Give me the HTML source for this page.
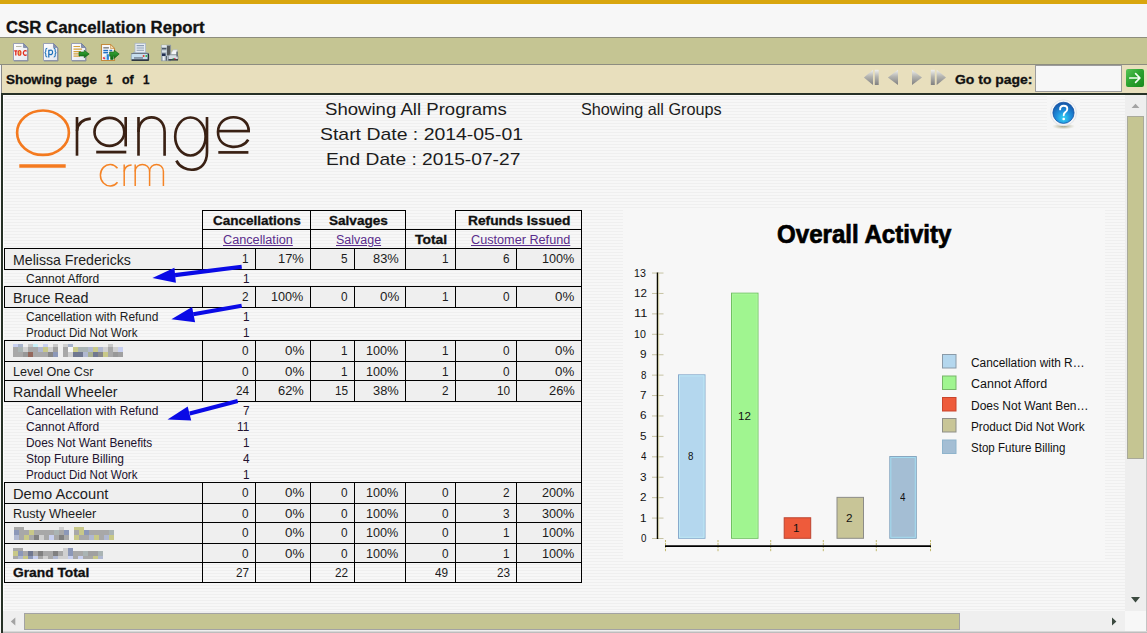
<!DOCTYPE html>
<html><head><meta charset="utf-8"><title>CSR Cancellation Report</title>
<style>
html,body{margin:0;padding:0;}
body{width:1147px;height:633px;overflow:hidden;position:relative;background:#f7f7f7;font-family:"Liberation Sans",sans-serif;}
.a{position:absolute;}
.t{position:absolute;white-space:pre;line-height:1;transform-origin:0 0;font-family:"Liberation Sans",sans-serif;}
.h{position:absolute;height:1px;background:#000;}
.v{position:absolute;width:1px;background:#000;}
.rb{position:absolute;left:4px;width:577px;background:#efefef;}
svg{position:absolute;overflow:visible;}
</style></head><body>
<!-- top gold bar -->
<div class="a" style="left:0;top:0;width:1147px;height:4px;background:#d9a60e;"></div>
<!-- toolbar -->
<div class="a" style="left:0;top:37px;width:1147px;height:28px;background:#c5c593;border-top:1px solid #8d8d7d;border-bottom:1px solid #8d8d80;box-sizing:border-box;"></div>
<!-- nav bar -->
<div class="a" style="left:1px;top:65px;width:1146px;height:28px;background:#e8dfbd;border-left:1px solid #8a8a8a;box-sizing:border-box;"></div>
<!-- report frame -->
<div class="a" style="left:1px;top:93px;width:1146px;height:540px;background:#263126;"></div>
<div class="a" style="left:3px;top:95px;width:1144px;height:538px;background:#fdfdfd;"></div>
<div class="a" id="stripes" style="left:4px;top:96px;width:1121px;height:515px;background:repeating-linear-gradient(to bottom,#efefef 0px,#efefef 1px,#f7f7f7 1px,#f7f7f7 3px);background-position:0 0;"></div>
<!-- chart background -->
<div class="a" style="left:623px;top:208px;width:482px;height:352px;background:#f7f7f7;"></div>
<!-- scrollbars -->
<div class="a" style="left:1125px;top:95px;width:21px;height:516px;background:#eeeeee;"></div>
<div class="a" style="left:1146px;top:95px;width:1px;height:538px;background:#c4c4c4;"></div>
<div class="a" style="left:1127px;top:116px;width:17px;height:343px;background:#c5c592;border:1px solid #a9a99a;box-sizing:border-box;"></div>
<div class="a" style="left:3px;top:611px;width:1122px;height:21px;background:#efefef;"></div>
<div class="a" style="left:1125px;top:611px;width:21px;height:21px;background:#f7f7f7;"></div>
<div class="a" style="left:24px;top:613px;width:936px;height:17px;background:#c5c592;border:1px solid #a3a3a3;box-sizing:border-box;"></div>
<div class="a" style="left:1px;top:631px;width:1146px;height:1px;background:#d8d8d8;"></div><div class="a" style="left:1px;top:632px;width:1146px;height:1px;background:#bdbdbd;"></div>
<div class="a" style="left:1px;top:93px;width:2px;height:540px;background:#263126;"></div>
<svg width="1147" height="633" style="left:0;top:0" viewBox="0 0 1147 633">
 <polygon points="1131.6,108 1139.4,108 1135.5,103.7" fill="#a3a3a3"/>
 <polygon points="1131,597 1140,597 1135.5,602.5" fill="#3c4a40"/>
 <polygon points="15.3,617.5 15.3,625.5 10.8,621.5" fill="#a3a3a3"/>
 <polygon points="1112,617.5 1112,625.5 1116.4,621.5" fill="#3c4a40"/>
</svg>
<svg width="1147" height="633" style="left:0;top:0" viewBox="0 0 1147 633">
<defs>
 <linearGradient id="gArrow" x1="0" y1="0" x2="0" y2="1"><stop offset="0" stop-color="#3cae3c"/><stop offset="1" stop-color="#0e6a12"/></linearGradient>
 <linearGradient id="gPage" x1="0" y1="0" x2="1" y2="1"><stop offset="0" stop-color="#ffffff"/><stop offset="1" stop-color="#e4e6ee"/></linearGradient>
</defs>
<!-- icon1 TOC -->
<g>
 <path d="M13.5,43.5 H23.5 L27.5,47.5 V60.5 H13.5 Z" fill="url(#gPage)" stroke="#9aa0b4" stroke-width="1"/>
 <path d="M23.5,43.5 V47.5 H27.5 Z" fill="#8792b0" stroke="#6a7697" stroke-width="0.6"/>
 <path d="M14,61 H28 V48" fill="none" stroke="#7c8294" stroke-width="1" opacity=".7"/>
 <rect x="16" y="46" width="5.5" height="1" fill="#b9b9a8"/>
 <g fill="none" stroke="#e0281c" stroke-width="1.3">
  <path d="M14.2,50.9 H17.4 M15.8,50.9 V55.4"/>
  <ellipse cx="19.5" cy="52.9" rx="1.35" ry="2.2" stroke="#e2401c"/>
  <path d="M26.6,51.4 A1.9,2.3 0 1 0 26.6,54.6"/>
 </g>
 <ellipse cx="19.5" cy="52.9" rx="0.5" ry="1.4" fill="#f2c43a" stroke="none"/>
</g>
<!-- icon2 {p} -->
<g>
 <path d="M43.5,43.5 H53.5 L57.5,47.5 V60.5 H43.5 Z" fill="url(#gPage)" stroke="#9aa0b4" stroke-width="1"/>
 <path d="M53.5,43.5 V47.5 H57.5 Z" fill="#8792b0" stroke="#6a7697" stroke-width="0.6"/>
 <path d="M44,61 H58 V48" fill="none" stroke="#7c8294" stroke-width="1" opacity=".7"/>
 <g fill="none" stroke="#1c70b8" stroke-width="1.05">
  <path d="M47.3,48.3 Q45.8,48.3 45.8,50 V51.3 Q45.8,52.6 44.6,52.6 Q45.8,52.6 45.8,53.9 V55.4 Q45.8,57 47.3,57"/>
  <path d="M53.7,48.3 Q55.2,48.3 55.2,50 V51.3 Q55.2,52.6 56.4,52.6 Q55.2,52.6 55.2,53.9 V55.4 Q55.2,57 53.7,57"/>
  <path d="M48.8,49.8 V57.6 M48.8,50.6 Q52.6,49 52.6,52.3 Q52.6,55.4 48.8,54.2" stroke-width="1.25"/>
 </g>
</g>
<!-- icon3 export data -->
<g>
 <path d="M71.5,43.5 H81.5 L85.5,47.5 V60.5 H71.5 Z" fill="url(#gPage)" stroke="#9aa0b4" stroke-width="1"/>
 <path d="M81.5,43.5 V47.5 H85.5 Z" fill="#8792b0" stroke="#5d6a8c" stroke-width="0.6"/>
 <path d="M72,61 H86 V48" fill="none" stroke="#7c8294" stroke-width="1" opacity=".7"/>
 <g stroke="#d4a23c" stroke-width="1.2">
  <path d="M73.5,46.5 H80 M73.5,49.2 H82 M73.5,51.6 H81 M73.5,53.8 H79 M73.5,56.2 H80"/>
 </g>
 <path d="M79,52 H84.2 V50.3 L89.2,54 L84.2,57.8 V56 H79 Z" fill="url(#gArrow)" stroke="#0d5e10" stroke-width="0.6"/>
</g>
<!-- icon4 export report -->
<g>
 <path d="M101.5,44.5 H110.5 L114.5,48.5 V60.5 H101.5 Z" fill="#f8f8fa" stroke="#c48a3c" stroke-width="1.1"/>
 <path d="M110.5,44.5 V48.5 H114.5 Z" fill="#f0d9a8" stroke="#c48a3c" stroke-width="0.6"/>
 <rect x="103.3" y="47" width="5.6" height="1.6" fill="#8a8a8a"/>
 <rect x="103.3" y="49.8" width="4.8" height="1.5" fill="#1f6fc4"/>
 <rect x="109.4" y="49.8" width="2.8" height="1.5" fill="#1f6fc4"/>
 <rect x="103.3" y="52" width="4.8" height="1.4" fill="#1f6fc4"/>
 <rect x="106.6" y="54.2" width="2.3" height="5.6" fill="#2a86d8"/>
 <rect x="104.3" y="55.6" width="1.8" height="4.2" fill="#bfe1f4"/>
 <rect x="103" y="57" width="1.8" height="2.2" fill="#e8324a" transform="rotate(-40 104 58)"/>
 <path d="M109.6,52 H114.2 V50.2 L119.2,54 L114.2,58.4 V56.2 H113.2 V59.4 H110.6 V56.2 H109.6 Z" fill="url(#gArrow)" stroke="#0d5e10" stroke-width="0.6"/>
</g>
<!-- icon5 printer -->
<g>
 <rect x="135" y="43.3" width="10.6" height="10" fill="#e6ecf2" stroke="#aab6c6" stroke-width="0.8"/>
 <path d="M136.6,45.6 H144 M136.6,48 H144 M136.6,50.3 H144" stroke="#8c9db4" stroke-width="1.1"/>
 <path d="M133,52.8 H147.4 L149,55 V60 H131.3 V55 Z" fill="#c6deee" stroke="#8aa2b8" stroke-width="0.8"/>
 <rect x="131.3" y="53" width="17.7" height="1" fill="#6e7884"/>
 <rect x="131.6" y="59.3" width="17.2" height="1.7" fill="#2e3640"/>
 <rect x="134" y="57.3" width="9" height="1.3" fill="#6c7a8a"/>
 <rect x="147.6" y="54" width="1.4" height="6" fill="#2e3640"/>
 <circle cx="143.6" cy="55.9" r="1" fill="#e23a2a"/>
 <circle cx="146.3" cy="55.9" r="1" fill="#2fb24a"/>
</g>
<!-- icon6 server printer -->
<g>
 <rect x="161.3" y="45.2" width="9.4" height="15.6" fill="#b4c0c8" stroke="#8a96a0" stroke-width="0.7"/>
 <rect x="161.6" y="45.2" width="5" height="1.6" fill="#eef2f4"/>
 <rect x="167" y="45.8" width="3.2" height="9.6" fill="#565a5a"/>
 <rect x="162" y="48" width="4.4" height="1.4" fill="#4c5866"/>
 <rect x="162" y="50.6" width="4.4" height="1.2" fill="#dfe8ee"/>
 <rect x="162" y="53.4" width="3.6" height="2.6" fill="#223052"/>
 <rect x="163" y="56.4" width="1.6" height="4" fill="#eef2f6"/>
 <rect x="165.8" y="56" width="1.2" height="4.6" fill="#5a646e"/>
 <path d="M171.4,52.5 L173.2,49.8 H177.4 L176.6,54.6 H171 Z" fill="#f4f6f8" stroke="#a9b2ba" stroke-width="0.6"/>
 <path d="M169.6,54.8 H177 L178,56.2 V59.6 H168.4 V56.4 Z" fill="#d7dee4" stroke="#7f8a94" stroke-width="0.7"/>
 <rect x="168.4" y="59" width="9.6" height="1.6" fill="#3c444c"/>
 <rect x="176.4" y="51.6" width="1.4" height="5" fill="#5e6a74"/>
 <rect x="172.6" y="58.2" width="1.3" height="1.2" fill="#1e9a3a"/>
 <rect x="174" y="58.2" width="1.5" height="1.2" fill="#c81e3c"/>
</g>
</svg>

<div class="a" style="left:1047px;top:96px;width:33px;height:34px;background:#f6f6f6;"></div>
<div class="a" style="left:1035px;top:65px;width:87px;height:27px;background:#f7f7f7;border:1px solid #9c9c9c;box-sizing:border-box;"></div>
<svg width="1147" height="633" style="left:0;top:0" viewBox="0 0 1147 633">
<defs>
 <linearGradient id="gNav" x1="0" y1="0" x2="0" y2="1"><stop offset="0" stop-color="#f0f0ee"/><stop offset=".45" stop-color="#b4b4b0"/><stop offset="1" stop-color="#808080"/></linearGradient>
 <linearGradient id="gGo" x1="0" y1="0" x2="1" y2="1"><stop offset="0" stop-color="#56c456"/><stop offset=".5" stop-color="#2aa12e"/><stop offset="1" stop-color="#178a1c"/></linearGradient>
 <radialGradient id="gHelp" cx=".5" cy=".75" r=".75"><stop offset="0" stop-color="#34d4f4"/><stop offset=".45" stop-color="#1e8fdc"/><stop offset="1" stop-color="#1450a4"/></radialGradient>
 <radialGradient id="gSh" cx=".5" cy=".5" r=".5"><stop offset="0" stop-color="#8a8a60" stop-opacity=".8"/><stop offset="1" stop-color="#b0b090" stop-opacity="0"/></radialGradient>
</defs>
<g fill="url(#gNav)">
 <polygon points="863.9,77.4 873,69.8 873,85"/>
 <rect x="874.8" y="69.8" width="3.9" height="15.2"/>
 <polygon points="887.9,77.4 898,69.8 898,85"/>
 <polygon points="922,77.4 912,69.8 912,85"/>
 <rect x="930.8" y="69.8" width="4" height="15.2"/>
 <polygon points="946,77.4 936.7,69.8 936.7,85"/>
</g>
<!-- go button -->
<rect x="1126" y="69" width="18" height="18" rx="2" fill="url(#gGo)"/>
<path d="M1129.8,78 H1139.6 M1135.6,73.6 L1139.9,78 L1135.6,82.4" fill="none" stroke="#f4fff4" stroke-width="1.7" stroke-linecap="round" stroke-linejoin="round"/>
<!-- help icon -->
<ellipse cx="1063.5" cy="126.3" rx="11.5" ry="3" fill="url(#gSh)"/>
<circle cx="1063.5" cy="112.8" r="13" fill="#f4f6f8" stroke="#e2e4e8" stroke-width="1"/>
<circle cx="1063.5" cy="112.8" r="10.6" fill="url(#gHelp)" stroke="#1a58a8" stroke-width="0.8"/>
<path d="M1060.1,109.4 Q1060.1,105.8 1063.7,105.8 Q1067.3,105.8 1067.3,109 Q1067.3,111 1065.1,112.4 Q1063.7,113.3 1063.7,115.2" fill="none" stroke="#fff" stroke-width="1.9" stroke-linecap="round"/>
<circle cx="1063.7" cy="119" r="1.3" fill="#fff"/>
</svg>

<svg width="1147" height="633" style="left:0;top:0" viewBox="0 0 1147 633" fill="none" stroke-linecap="butt">
<g stroke="#f47a1f" stroke-width="2.65">
 <ellipse cx="43" cy="132.7" rx="25.9" ry="22.2"/>
 <path d="M19.3,166 H65.7" stroke-width="3.3"/>
</g>
<g stroke="#3a2114" stroke-width="2.65">
 <!-- r -->
 <path d="M77,117 V155.7"/>
 <path d="M77,131 Q78,119.6 90.8,118.6" stroke-width="2.6"/>
 <!-- a -->
 <ellipse cx="109.4" cy="131.9" rx="14.9" ry="14"/>
 <path d="M125.7,117 V146.4"/>
 <path d="M96.2,152.1 H126.3" stroke-width="2.8"/>
 <!-- n -->
 <path d="M138.5,117 V155.7"/>
 <path d="M138.5,132 C138.5,112.5 164.6,112.5 164.6,132 V155.7"/>
 <!-- g -->
 <ellipse cx="190.4" cy="136.5" rx="15.2" ry="19"/>
 <path d="M207,117 V152 C207,175 182,173 176.4,160.6"/>
 <!-- e -->
 <path d="M218,131.1 H250"/>
 <path d="M248.7,131.1 C248.7,112.5 218,112.5 218,131.8 C218,150.5 243,150 248.2,139.6"/>
 <path d="M218.3,152.4 H248.4" stroke-width="2.7"/>
</g>
<g stroke="#f58426" stroke-width="1.5">
 <path d="M117.5,168.2 A9.7,10.8 0 1 0 117.5,182.2"/>
 <path d="M124.2,164.4 V186"/>
 <path d="M124.2,171.5 Q124.8,165.4 131.6,165"/>
 <path d="M135.2,164.4 V186"/>
 <path d="M135.2,171.5 C135.2,162.2 149.6,162.2 149.6,171.5 V186"/>
 <path d="M149.6,171.5 C149.6,162.2 163.4,162.2 163.4,171.5 V186"/>
</g>
</svg>

<div class="rb" style="top:248px;height:21px"></div>
<div class="rb" style="top:286px;height:21px"></div>
<div class="rb" style="top:340px;height:21px"></div>
<div class="rb" style="top:361px;height:19px"></div>
<div class="rb" style="top:380px;height:21px"></div>
<div class="rb" style="top:482px;height:21px"></div>
<div class="rb" style="top:503px;height:19px"></div>
<div class="rb" style="top:522px;height:21px"></div>
<div class="rb" style="top:543px;height:19px"></div>
<div class="h" style="left:202px;top:210px;width:204px"></div>
<div class="h" style="left:455px;top:210px;width:127px"></div>
<div class="h" style="left:202px;top:229px;width:380px"></div>
<div class="h" style="left:4px;top:248px;width:578px"></div>
<div class="h" style="left:4px;top:269px;width:578px"></div>
<div class="h" style="left:4px;top:286px;width:578px"></div>
<div class="h" style="left:4px;top:307px;width:578px"></div>
<div class="h" style="left:4px;top:340px;width:578px"></div>
<div class="h" style="left:4px;top:361px;width:578px"></div>
<div class="h" style="left:4px;top:380px;width:578px"></div>
<div class="h" style="left:4px;top:401px;width:578px"></div>
<div class="h" style="left:4px;top:482px;width:578px"></div>
<div class="h" style="left:4px;top:503px;width:578px"></div>
<div class="h" style="left:4px;top:522px;width:578px"></div>
<div class="h" style="left:4px;top:543px;width:578px"></div>
<div class="h" style="left:4px;top:562px;width:578px"></div>
<div class="h" style="left:4px;top:582px;width:578px"></div>
<div class="v" style="left:581px;top:210px;height:373px"></div>
<div class="v" style="left:202px;top:210px;height:39px"></div>
<div class="v" style="left:310px;top:210px;height:39px"></div>
<div class="v" style="left:405px;top:210px;height:39px"></div>
<div class="v" style="left:455px;top:210px;height:39px"></div>
<div class="v" style="left:4px;top:248px;height:22px"></div>
<div class="v" style="left:202px;top:248px;height:22px"></div>
<div class="v" style="left:255px;top:248px;height:22px"></div>
<div class="v" style="left:310px;top:248px;height:22px"></div>
<div class="v" style="left:354px;top:248px;height:22px"></div>
<div class="v" style="left:405px;top:248px;height:22px"></div>
<div class="v" style="left:455px;top:248px;height:22px"></div>
<div class="v" style="left:516px;top:248px;height:22px"></div>
<div class="v" style="left:4px;top:286px;height:22px"></div>
<div class="v" style="left:202px;top:286px;height:22px"></div>
<div class="v" style="left:255px;top:286px;height:22px"></div>
<div class="v" style="left:310px;top:286px;height:22px"></div>
<div class="v" style="left:354px;top:286px;height:22px"></div>
<div class="v" style="left:405px;top:286px;height:22px"></div>
<div class="v" style="left:455px;top:286px;height:22px"></div>
<div class="v" style="left:516px;top:286px;height:22px"></div>
<div class="v" style="left:4px;top:340px;height:22px"></div>
<div class="v" style="left:202px;top:340px;height:22px"></div>
<div class="v" style="left:255px;top:340px;height:22px"></div>
<div class="v" style="left:310px;top:340px;height:22px"></div>
<div class="v" style="left:354px;top:340px;height:22px"></div>
<div class="v" style="left:405px;top:340px;height:22px"></div>
<div class="v" style="left:455px;top:340px;height:22px"></div>
<div class="v" style="left:516px;top:340px;height:22px"></div>
<div class="v" style="left:4px;top:361px;height:20px"></div>
<div class="v" style="left:202px;top:361px;height:20px"></div>
<div class="v" style="left:255px;top:361px;height:20px"></div>
<div class="v" style="left:310px;top:361px;height:20px"></div>
<div class="v" style="left:354px;top:361px;height:20px"></div>
<div class="v" style="left:405px;top:361px;height:20px"></div>
<div class="v" style="left:455px;top:361px;height:20px"></div>
<div class="v" style="left:516px;top:361px;height:20px"></div>
<div class="v" style="left:4px;top:380px;height:22px"></div>
<div class="v" style="left:202px;top:380px;height:22px"></div>
<div class="v" style="left:255px;top:380px;height:22px"></div>
<div class="v" style="left:310px;top:380px;height:22px"></div>
<div class="v" style="left:354px;top:380px;height:22px"></div>
<div class="v" style="left:405px;top:380px;height:22px"></div>
<div class="v" style="left:455px;top:380px;height:22px"></div>
<div class="v" style="left:516px;top:380px;height:22px"></div>
<div class="v" style="left:4px;top:482px;height:22px"></div>
<div class="v" style="left:202px;top:482px;height:22px"></div>
<div class="v" style="left:255px;top:482px;height:22px"></div>
<div class="v" style="left:310px;top:482px;height:22px"></div>
<div class="v" style="left:354px;top:482px;height:22px"></div>
<div class="v" style="left:405px;top:482px;height:22px"></div>
<div class="v" style="left:455px;top:482px;height:22px"></div>
<div class="v" style="left:516px;top:482px;height:22px"></div>
<div class="v" style="left:4px;top:503px;height:20px"></div>
<div class="v" style="left:202px;top:503px;height:20px"></div>
<div class="v" style="left:255px;top:503px;height:20px"></div>
<div class="v" style="left:310px;top:503px;height:20px"></div>
<div class="v" style="left:354px;top:503px;height:20px"></div>
<div class="v" style="left:405px;top:503px;height:20px"></div>
<div class="v" style="left:455px;top:503px;height:20px"></div>
<div class="v" style="left:516px;top:503px;height:20px"></div>
<div class="v" style="left:4px;top:522px;height:22px"></div>
<div class="v" style="left:202px;top:522px;height:22px"></div>
<div class="v" style="left:255px;top:522px;height:22px"></div>
<div class="v" style="left:310px;top:522px;height:22px"></div>
<div class="v" style="left:354px;top:522px;height:22px"></div>
<div class="v" style="left:405px;top:522px;height:22px"></div>
<div class="v" style="left:455px;top:522px;height:22px"></div>
<div class="v" style="left:516px;top:522px;height:22px"></div>
<div class="v" style="left:4px;top:543px;height:20px"></div>
<div class="v" style="left:202px;top:543px;height:20px"></div>
<div class="v" style="left:255px;top:543px;height:20px"></div>
<div class="v" style="left:310px;top:543px;height:20px"></div>
<div class="v" style="left:354px;top:543px;height:20px"></div>
<div class="v" style="left:405px;top:543px;height:20px"></div>
<div class="v" style="left:455px;top:543px;height:20px"></div>
<div class="v" style="left:516px;top:543px;height:20px"></div>
<div class="v" style="left:4px;top:562px;height:21px"></div>
<div class="v" style="left:202px;top:562px;height:21px"></div>
<div class="v" style="left:255px;top:562px;height:21px"></div>
<div class="v" style="left:310px;top:562px;height:21px"></div>
<div class="v" style="left:354px;top:562px;height:21px"></div>
<div class="v" style="left:405px;top:562px;height:21px"></div>
<div class="v" style="left:455px;top:562px;height:21px"></div>
<div class="v" style="left:516px;top:562px;height:21px"></div>
<svg width="1147" height="633" style="left:0;top:0" viewBox="0 0 1147 633" shape-rendering="auto">
<line x1="652" x2="663.5" y1="538.50" y2="538.50" stroke="#c6c3a4" stroke-width="1"/>
<line x1="652" x2="663.5" y1="518.08" y2="518.08" stroke="#c6c3a4" stroke-width="1"/>
<line x1="652" x2="663.5" y1="497.66" y2="497.66" stroke="#c6c3a4" stroke-width="1"/>
<line x1="652" x2="663.5" y1="477.24" y2="477.24" stroke="#c6c3a4" stroke-width="1"/>
<line x1="652" x2="663.5" y1="456.82" y2="456.82" stroke="#c6c3a4" stroke-width="1"/>
<line x1="652" x2="663.5" y1="436.40" y2="436.40" stroke="#c6c3a4" stroke-width="1"/>
<line x1="652" x2="663.5" y1="415.98" y2="415.98" stroke="#c6c3a4" stroke-width="1"/>
<line x1="652" x2="663.5" y1="395.56" y2="395.56" stroke="#c6c3a4" stroke-width="1"/>
<line x1="652" x2="663.5" y1="375.14" y2="375.14" stroke="#c6c3a4" stroke-width="1"/>
<line x1="652" x2="663.5" y1="354.72" y2="354.72" stroke="#c6c3a4" stroke-width="1"/>
<line x1="652" x2="663.5" y1="334.30" y2="334.30" stroke="#c6c3a4" stroke-width="1"/>
<line x1="652" x2="663.5" y1="313.88" y2="313.88" stroke="#c6c3a4" stroke-width="1"/>
<line x1="652" x2="663.5" y1="293.46" y2="293.46" stroke="#c6c3a4" stroke-width="1"/>
<line x1="652" x2="663.5" y1="273.04" y2="273.04" stroke="#c6c3a4" stroke-width="1"/>
<line x1="657.5" x2="657.5" y1="272.5" y2="539" stroke="#0a0a00" stroke-width="1.5"/>
<line x1="658.7" x2="658.7" y1="273" y2="538" stroke="#d4cf9c" stroke-width="0.8"/>
<rect x="678.5" y="374.84" width="26.5" height="163.46" fill="#b4d7ee" stroke="#88aacc" stroke-width="1"/>
<rect x="679.5" y="375.84" width="24.5" height="161.46" fill="none" stroke="#bfe9f6" stroke-width="1"/>
<rect x="731.5" y="293.16" width="26.5" height="245.14" fill="#a0f590" stroke="#70c062" stroke-width="1"/>
<rect x="732.5" y="294.16" width="24.5" height="243.14" fill="none" stroke="#abf79c" stroke-width="1"/>
<rect x="784.2" y="517.78" width="26.5" height="20.52" fill="#ee5b3b" stroke="#bd4430" stroke-width="1"/>
<rect x="837.0" y="497.36" width="26.5" height="40.94" fill="#c8c597" stroke="#8c8c88" stroke-width="1"/>
<rect x="889.8" y="456.52" width="26.5" height="81.78" fill="#a4bed4" stroke="#86a6c0" stroke-width="1"/>
<rect x="890.8" y="457.52" width="24.5" height="79.78" fill="none" stroke="#a4dcf0" stroke-width="1"/>
<line x1="665.5" x2="665.5" y1="540" y2="552" stroke="#c2b970" stroke-width="1" stroke-dasharray="2.2,0.8"/>
<line x1="718" x2="718" y1="540" y2="552" stroke="#c2b970" stroke-width="1" stroke-dasharray="2.2,0.8"/>
<line x1="770.7" x2="770.7" y1="540" y2="552" stroke="#c2b970" stroke-width="1" stroke-dasharray="2.2,0.8"/>
<line x1="823.3" x2="823.3" y1="540" y2="552" stroke="#c2b970" stroke-width="1" stroke-dasharray="2.2,0.8"/>
<line x1="876.3" x2="876.3" y1="540" y2="552" stroke="#c2b970" stroke-width="1" stroke-dasharray="2.2,0.8"/>
<line x1="930.5" x2="930.5" y1="540" y2="552" stroke="#c2b970" stroke-width="1" stroke-dasharray="2.2,0.8"/>
<line x1="665" x2="931" y1="546.2" y2="546.2" stroke="#000" stroke-width="1.7"/>
<rect x="942.5" y="354.5" width="13.5" height="13.5" fill="#b4d7ee" stroke="#8a9aa8" stroke-width="1"/>
<rect x="942.5" y="376" width="13.5" height="13.5" fill="#a0f590" stroke="#78b56a" stroke-width="1"/>
<rect x="942.5" y="397.5" width="13.5" height="13.5" fill="#ee5b3b" stroke="#c9452c" stroke-width="1"/>
<rect x="942.5" y="418.5" width="13.5" height="13.5" fill="#c8c597" stroke="#8f8f88" stroke-width="1"/>
<rect x="942.5" y="440" width="13.5" height="13.5" fill="#a4bed4" stroke="#8fb4cc" stroke-width="1"/>
</svg>
<svg width="1147" height="633" style="left:0;top:0" viewBox="0 0 1147 633" shape-rendering="crispEdges">
<rect x="13" y="344" width="5" height="3" fill="#c8d0f0"/>
<rect x="18" y="344" width="5" height="3" fill="#a8b4cc"/>
<rect x="28" y="344" width="5" height="3" fill="#c8c8c8"/>
<rect x="33" y="344" width="5" height="3" fill="#c8f0f8"/>
<rect x="43" y="344" width="5" height="3" fill="#c8d0f0"/>
<rect x="53" y="344" width="5" height="3" fill="#c8c8c8"/>
<rect x="13" y="347" width="5" height="5" fill="#a8a8a8"/>
<rect x="18" y="347" width="5" height="5" fill="#aab4b4"/>
<rect x="23" y="347" width="5" height="5" fill="#d0d0d0"/>
<rect x="28" y="347" width="5" height="5" fill="#a8a8a8"/>
<rect x="33" y="347" width="5" height="5" fill="#a8a8a8"/>
<rect x="38" y="347" width="5" height="5" fill="#b0b8d0"/>
<rect x="43" y="347" width="5" height="5" fill="#c8c888"/>
<rect x="48" y="347" width="5" height="5" fill="#d0d0d0"/>
<rect x="53" y="347" width="5" height="5" fill="#a0a0a0"/>
<rect x="13" y="352" width="5" height="5" fill="#a8a8a8"/>
<rect x="18" y="352" width="5" height="5" fill="#a8a8a8"/>
<rect x="23" y="352" width="5" height="5" fill="#989898"/>
<rect x="28" y="352" width="5" height="5" fill="#94685c"/>
<rect x="33" y="352" width="5" height="5" fill="#a8a8a8"/>
<rect x="38" y="352" width="5" height="5" fill="#a8a8a8"/>
<rect x="43" y="352" width="5" height="5" fill="#a8a8a8"/>
<rect x="48" y="352" width="5" height="5" fill="#888888"/>
<rect x="53" y="352" width="5" height="5" fill="#8c98b8"/>
<rect x="63" y="344" width="5" height="3" fill="#d0d0d0"/>
<rect x="68" y="344" width="5" height="3" fill="#a8b4cc"/>
<rect x="108" y="344" width="5" height="3" fill="#c8c8c8"/>
<rect x="63" y="347" width="5" height="5" fill="#a8a8a8"/>
<rect x="68" y="347" width="5" height="5" fill="#f8f8f8"/>
<rect x="73" y="347" width="5" height="5" fill="#c8c888"/>
<rect x="78" y="347" width="5" height="5" fill="#aab4b4"/>
<rect x="83" y="347" width="5" height="5" fill="#aab4b4"/>
<rect x="88" y="347" width="5" height="5" fill="#b0b8d0"/>
<rect x="93" y="347" width="5" height="5" fill="#c8c888"/>
<rect x="98" y="347" width="5" height="5" fill="#b0b8d0"/>
<rect x="103" y="347" width="5" height="5" fill="#d0d0d0"/>
<rect x="108" y="347" width="5" height="5" fill="#a8a8a8"/>
<rect x="113" y="347" width="5" height="5" fill="#d0d0d0"/>
<rect x="118" y="347" width="5" height="5" fill="#c8d0f0"/>
<rect x="63" y="352" width="5" height="5" fill="#a8a8a8"/>
<rect x="68" y="352" width="5" height="5" fill="#d0d0d0"/>
<rect x="73" y="352" width="5" height="5" fill="#707890"/>
<rect x="78" y="352" width="5" height="5" fill="#707890"/>
<rect x="83" y="352" width="5" height="5" fill="#b0b8d0"/>
<rect x="88" y="352" width="5" height="5" fill="#a8b090"/>
<rect x="93" y="352" width="5" height="5" fill="#707890"/>
<rect x="98" y="352" width="5" height="5" fill="#888888"/>
<rect x="103" y="352" width="5" height="5" fill="#c8c888"/>
<rect x="108" y="352" width="5" height="5" fill="#a8a8a8"/>
<rect x="113" y="352" width="5" height="5" fill="#989898"/>
<rect x="118" y="352" width="5" height="5" fill="#a0a0a0"/>
<rect x="14" y="527" width="5" height="3" fill="#a8a8a8"/>
<rect x="19" y="527" width="5" height="3" fill="#a8a8a8"/>
<rect x="59" y="527" width="5" height="3" fill="#d0d0d0"/>
<rect x="14" y="530" width="5" height="5" fill="#8c98b8"/>
<rect x="19" y="530" width="5" height="5" fill="#a8a8a8"/>
<rect x="24" y="530" width="5" height="5" fill="#a8a8a8"/>
<rect x="29" y="530" width="5" height="5" fill="#c8c888"/>
<rect x="34" y="530" width="5" height="5" fill="#a8a8a8"/>
<rect x="39" y="530" width="5" height="5" fill="#a8a8a8"/>
<rect x="44" y="530" width="5" height="5" fill="#a8a8a8"/>
<rect x="49" y="530" width="5" height="5" fill="#a8a8a8"/>
<rect x="54" y="530" width="5" height="5" fill="#aab4b4"/>
<rect x="59" y="530" width="5" height="5" fill="#a8a8a8"/>
<rect x="64" y="530" width="5" height="5" fill="#8c98b8"/>
<rect x="14" y="535" width="5" height="5" fill="#b0b8d0"/>
<rect x="19" y="535" width="5" height="5" fill="#a8a8a8"/>
<rect x="24" y="535" width="5" height="5" fill="#c8c888"/>
<rect x="29" y="535" width="5" height="5" fill="#a8a8a8"/>
<rect x="34" y="535" width="5" height="5" fill="#808080"/>
<rect x="39" y="535" width="5" height="5" fill="#d0d0d0"/>
<rect x="44" y="535" width="5" height="5" fill="#a8a8a8"/>
<rect x="49" y="535" width="5" height="5" fill="#c8d0f0"/>
<rect x="54" y="535" width="5" height="5" fill="#a8a8a8"/>
<rect x="59" y="535" width="5" height="5" fill="#808080"/>
<rect x="64" y="535" width="5" height="5" fill="#a8a8a8"/>
<rect x="74" y="527" width="5" height="3" fill="#c8c888"/>
<rect x="79" y="527" width="5" height="3" fill="#c8c888"/>
<rect x="74" y="530" width="5" height="5" fill="#a8a8a8"/>
<rect x="79" y="530" width="5" height="5" fill="#c8c888"/>
<rect x="84" y="530" width="5" height="5" fill="#8c98b8"/>
<rect x="89" y="530" width="5" height="5" fill="#a8a8a8"/>
<rect x="94" y="530" width="5" height="5" fill="#a8a8a8"/>
<rect x="99" y="530" width="5" height="5" fill="#a8a8a8"/>
<rect x="104" y="530" width="5" height="5" fill="#a8a8a8"/>
<rect x="109" y="530" width="5" height="5" fill="#aab4b4"/>
<rect x="74" y="535" width="5" height="5" fill="#c8c888"/>
<rect x="79" y="535" width="5" height="5" fill="#a8a8a8"/>
<rect x="84" y="535" width="5" height="5" fill="#a8a8a8"/>
<rect x="89" y="535" width="5" height="5" fill="#b0b8d0"/>
<rect x="94" y="535" width="5" height="5" fill="#c8c888"/>
<rect x="99" y="535" width="5" height="5" fill="#a8a8a8"/>
<rect x="104" y="535" width="5" height="5" fill="#b0b8d0"/>
<rect x="109" y="535" width="5" height="5" fill="#c8c888"/>
<rect x="13" y="548" width="5" height="3" fill="#a8a8a8"/>
<rect x="18" y="548" width="5" height="3" fill="#a8a8a8"/>
<rect x="63" y="548" width="5" height="3" fill="#d0d0d0"/>
<rect x="68" y="548" width="5" height="3" fill="#8c98b8"/>
<rect x="13" y="551" width="5" height="5" fill="#c8c888"/>
<rect x="18" y="551" width="5" height="5" fill="#8c98b8"/>
<rect x="23" y="551" width="5" height="5" fill="#a8a8a8"/>
<rect x="28" y="551" width="5" height="5" fill="#707890"/>
<rect x="33" y="551" width="5" height="5" fill="#a8a8a8"/>
<rect x="38" y="551" width="5" height="5" fill="#808080"/>
<rect x="43" y="551" width="5" height="5" fill="#a8a8a8"/>
<rect x="48" y="551" width="5" height="5" fill="#a8a8a8"/>
<rect x="53" y="551" width="5" height="5" fill="#808080"/>
<rect x="58" y="551" width="5" height="5" fill="#a8a8a8"/>
<rect x="63" y="551" width="5" height="5" fill="#d0d0d0"/>
<rect x="68" y="551" width="5" height="5" fill="#8c98b8"/>
<rect x="73" y="551" width="5" height="5" fill="#a8a8a8"/>
<rect x="78" y="551" width="5" height="5" fill="#a8a8a8"/>
<rect x="83" y="551" width="5" height="5" fill="#aab4b4"/>
<rect x="88" y="551" width="5" height="5" fill="#a0a0a0"/>
<rect x="93" y="551" width="5" height="5" fill="#a0a0a0"/>
<rect x="98" y="551" width="5" height="5" fill="#aab4b4"/>
<rect x="13" y="556" width="5" height="3" fill="#a8a8a8"/>
<rect x="18" y="556" width="5" height="3" fill="#b0b8d0"/>
<rect x="23" y="556" width="5" height="3" fill="#c8c888"/>
<rect x="28" y="556" width="5" height="3" fill="#8c98b8"/>
<rect x="33" y="556" width="5" height="3" fill="#c8d0f0"/>
<rect x="38" y="556" width="5" height="3" fill="#a8a8a8"/>
<rect x="43" y="556" width="5" height="3" fill="#d0d0d0"/>
<rect x="48" y="556" width="5" height="3" fill="#a8a8a8"/>
<rect x="53" y="556" width="5" height="3" fill="#b0b8d0"/>
<rect x="58" y="556" width="5" height="3" fill="#d0d0d0"/>
<rect x="63" y="556" width="5" height="3" fill="#d0d0d0"/>
<rect x="68" y="556" width="5" height="3" fill="#c8d0f0"/>
<rect x="73" y="556" width="5" height="3" fill="#a8a8a8"/>
<rect x="78" y="556" width="5" height="3" fill="#c8d0f0"/>
<rect x="83" y="556" width="5" height="3" fill="#a8a8a8"/>
<rect x="88" y="556" width="5" height="3" fill="#a8a8a8"/>
<rect x="93" y="556" width="5" height="3" fill="#c8c888"/>
<rect x="98" y="556" width="5" height="3" fill="#b0b8d0"/>
</svg>
<svg width="1147" height="633" style="left:0;top:0" viewBox="0 0 1147 633">
<line x1="241.7" y1="266.7" x2="175" y2="275.1" stroke="#0a0ae6" stroke-width="4.1"/>
<polygon points="152.4,278.1 174.4,267.8 175.9,282.8" fill="#0a0ae6"/>
<line x1="241.7" y1="305.8" x2="193.3" y2="314.2" stroke="#0a0ae6" stroke-width="4.1"/>
<polygon points="171.4,319.3 192.1,307.1 195.1,322.3" fill="#0a0ae6"/>
<line x1="237.7" y1="401" x2="189.7" y2="413.4" stroke="#0a0ae6" stroke-width="4.1"/>
<polygon points="167.5,419.6 187.7,406.6 191.2,420.5" fill="#0a0ae6"/>
</svg>
<span class="t" style="left:5.74px;top:20px;font-size:15.8px;color:#111;transform:scaleX(1.0624);font-weight:700;-webkit-text-stroke:0.3px #111;">CSR Cancellation Report</span>
<span class="t" style="left:5.78px;top:73px;font-size:13.2px;color:#111;transform:scaleX(1.0182);font-weight:700;-webkit-text-stroke:0.3px #111;">Showing page</span>
<span class="t" style="left:106.22px;top:73px;font-size:13.2px;color:#111;transform:scaleX(0.8833);font-weight:700;-webkit-text-stroke:0.3px #111;">1</span>
<span class="t" style="left:121.70px;top:73px;font-size:13.2px;color:#111;transform:scaleX(0.9462);font-weight:700;-webkit-text-stroke:0.3px #111;">of</span>
<span class="t" style="left:143.22px;top:73px;font-size:13.2px;color:#111;transform:scaleX(0.8833);font-weight:700;-webkit-text-stroke:0.3px #111;">1</span>
<span class="t" style="left:954.74px;top:73px;font-size:13.2px;color:#111;transform:scaleX(1.0577);font-weight:700;-webkit-text-stroke:0.3px #111;">Go to page:</span>
<span class="t" style="left:325.46px;top:101px;font-size:17px;color:#1c1c1c;transform:scaleX(1.0933);">Showing All Programs</span>
<span class="t" style="left:319.71px;top:126px;font-size:17px;color:#1c1c1c;transform:scaleX(1.1426);">Start Date : 2014-05-01</span>
<span class="t" style="left:325.72px;top:151px;font-size:17px;color:#1c1c1c;transform:scaleX(1.1300);">End Date : 2015-07-27</span>
<span class="t" style="left:580.87px;top:101px;font-size:16.5px;color:#1c1c1c;transform:scaleX(0.9831);">Showing all Groups</span>
<span class="t" style="left:213.30px;top:215px;font-size:12.3px;color:#111;transform:scaleX(1.0987);font-weight:700;-webkit-text-stroke:0.3px #111;">Cancellations</span>
<span class="t" style="left:329.20px;top:215px;font-size:12.3px;color:#111;transform:scaleX(1.1029);font-weight:700;-webkit-text-stroke:0.3px #111;">Salvages</span>
<span class="t" style="left:467.88px;top:215px;font-size:12.3px;color:#111;transform:scaleX(1.1178);font-weight:700;-webkit-text-stroke:0.3px #111;">Refunds Issued</span>
<span class="t" style="left:222.82px;top:234px;font-size:12.3px;color:#5a2d8c;transform:scaleX(1.0318);text-decoration:underline;">Cancellation</span>
<span class="t" style="left:336.09px;top:234px;font-size:12.3px;color:#5a2d8c;transform:scaleX(1.0140);text-decoration:underline;">Salvage</span>
<span class="t" style="left:415.30px;top:234px;font-size:12.3px;color:#111;transform:scaleX(1.1286);font-weight:700;-webkit-text-stroke:0.3px #111;">Total</span>
<span class="t" style="left:470.52px;top:234px;font-size:12.3px;color:#5a2d8c;transform:scaleX(1.0300);text-decoration:underline;">Customer Refund</span>
<span class="t" style="left:12.85px;top:253px;font-size:14.2px;color:#1c1c1c;transform:scaleX(0.9966);">Melissa Fredericks</span>
<span class="t" style="left:242.25px;top:253px;font-size:12.3px;color:#1c1c1c;transform:scaleX(0.9578);">1</span>
<span class="t" style="left:277.99px;top:253px;font-size:12.3px;color:#1c1c1c;transform:scaleX(1.0483);">17%</span>
<span class="t" style="left:341.15px;top:253px;font-size:12.3px;color:#1c1c1c;transform:scaleX(0.9578);">5</span>
<span class="t" style="left:372.99px;top:253px;font-size:12.3px;color:#1c1c1c;transform:scaleX(1.0483);">83%</span>
<span class="t" style="left:441.85px;top:253px;font-size:12.3px;color:#1c1c1c;transform:scaleX(0.9578);">1</span>
<span class="t" style="left:503.25px;top:253px;font-size:12.3px;color:#1c1c1c;transform:scaleX(0.9578);">6</span>
<span class="t" style="left:542.05px;top:253px;font-size:12.3px;color:#1c1c1c;transform:scaleX(1.0286);">100%</span>
<span class="t" style="left:25.62px;top:273px;font-size:12.3px;color:#1c1c1c;transform:scaleX(0.9774);">Cannot Afford</span>
<span class="t" style="left:242.75px;top:273px;font-size:12.3px;color:#22122e;transform:scaleX(0.9578);">1</span>
<span class="t" style="left:12.84px;top:291px;font-size:14.2px;color:#1c1c1c;transform:scaleX(1.0082);">Bruce Read</span>
<span class="t" style="left:242.25px;top:291px;font-size:12.3px;color:#1c1c1c;transform:scaleX(0.9578);">2</span>
<span class="t" style="left:271.45px;top:291px;font-size:12.3px;color:#1c1c1c;transform:scaleX(1.0286);">100%</span>
<span class="t" style="left:341.15px;top:291px;font-size:12.3px;color:#1c1c1c;transform:scaleX(0.9578);">0</span>
<span class="t" style="left:379.54px;top:291px;font-size:12.3px;color:#1c1c1c;transform:scaleX(1.0831);">0%</span>
<span class="t" style="left:441.85px;top:291px;font-size:12.3px;color:#1c1c1c;transform:scaleX(0.9578);">1</span>
<span class="t" style="left:503.25px;top:291px;font-size:12.3px;color:#1c1c1c;transform:scaleX(0.9578);">0</span>
<span class="t" style="left:555.14px;top:291px;font-size:12.3px;color:#1c1c1c;transform:scaleX(1.0831);">0%</span>
<span class="t" style="left:25.63px;top:311px;font-size:12.3px;color:#1c1c1c;transform:scaleX(0.9728);">Cancellation with Refund</span>
<span class="t" style="left:242.75px;top:311px;font-size:12.3px;color:#22122e;transform:scaleX(0.9578);">1</span>
<span class="t" style="left:25.66px;top:327px;font-size:12.3px;color:#1c1c1c;transform:scaleX(0.9394);">Product Did Not Work</span>
<span class="t" style="left:242.75px;top:327px;font-size:12.3px;color:#22122e;transform:scaleX(0.9578);">1</span>
<span class="t" style="left:242.25px;top:345px;font-size:12.3px;color:#1c1c1c;transform:scaleX(0.9578);">0</span>
<span class="t" style="left:284.54px;top:345px;font-size:12.3px;color:#1c1c1c;transform:scaleX(1.0831);">0%</span>
<span class="t" style="left:341.15px;top:345px;font-size:12.3px;color:#1c1c1c;transform:scaleX(0.9578);">1</span>
<span class="t" style="left:366.45px;top:345px;font-size:12.3px;color:#1c1c1c;transform:scaleX(1.0286);">100%</span>
<span class="t" style="left:441.85px;top:345px;font-size:12.3px;color:#1c1c1c;transform:scaleX(0.9578);">1</span>
<span class="t" style="left:503.25px;top:345px;font-size:12.3px;color:#1c1c1c;transform:scaleX(0.9578);">0</span>
<span class="t" style="left:555.14px;top:345px;font-size:12.3px;color:#1c1c1c;transform:scaleX(1.0831);">0%</span>
<span class="t" style="left:12.88px;top:365px;font-size:13.0px;color:#1c1c1c;transform:scaleX(0.9677);">Level One Csr</span>
<span class="t" style="left:242.25px;top:366px;font-size:12.3px;color:#1c1c1c;transform:scaleX(0.9578);">0</span>
<span class="t" style="left:284.54px;top:366px;font-size:12.3px;color:#1c1c1c;transform:scaleX(1.0831);">0%</span>
<span class="t" style="left:341.15px;top:366px;font-size:12.3px;color:#1c1c1c;transform:scaleX(0.9578);">1</span>
<span class="t" style="left:366.45px;top:366px;font-size:12.3px;color:#1c1c1c;transform:scaleX(1.0286);">100%</span>
<span class="t" style="left:441.85px;top:366px;font-size:12.3px;color:#1c1c1c;transform:scaleX(0.9578);">1</span>
<span class="t" style="left:503.25px;top:366px;font-size:12.3px;color:#1c1c1c;transform:scaleX(0.9578);">0</span>
<span class="t" style="left:555.14px;top:366px;font-size:12.3px;color:#1c1c1c;transform:scaleX(1.0831);">0%</span>
<span class="t" style="left:12.85px;top:385px;font-size:14.2px;color:#1c1c1c;transform:scaleX(0.9962);">Randall Wheeler</span>
<span class="t" style="left:235.69px;top:385px;font-size:12.3px;color:#1c1c1c;transform:scaleX(0.9578);">24</span>
<span class="t" style="left:277.99px;top:385px;font-size:12.3px;color:#1c1c1c;transform:scaleX(1.0483);">62%</span>
<span class="t" style="left:334.59px;top:385px;font-size:12.3px;color:#1c1c1c;transform:scaleX(0.9578);">15</span>
<span class="t" style="left:372.99px;top:385px;font-size:12.3px;color:#1c1c1c;transform:scaleX(1.0483);">38%</span>
<span class="t" style="left:441.85px;top:385px;font-size:12.3px;color:#1c1c1c;transform:scaleX(0.9578);">2</span>
<span class="t" style="left:496.69px;top:385px;font-size:12.3px;color:#1c1c1c;transform:scaleX(0.9578);">10</span>
<span class="t" style="left:548.59px;top:385px;font-size:12.3px;color:#1c1c1c;transform:scaleX(1.0483);">26%</span>
<span class="t" style="left:25.63px;top:405px;font-size:12.3px;color:#22122e;transform:scaleX(0.9728);">Cancellation with Refund</span>
<span class="t" style="left:242.75px;top:405px;font-size:12.3px;color:#22122e;transform:scaleX(0.9578);">7</span>
<span class="t" style="left:25.62px;top:421px;font-size:12.3px;color:#22122e;transform:scaleX(0.9774);">Cannot Afford</span>
<span class="t" style="left:237.07px;top:421px;font-size:12.3px;color:#22122e;transform:scaleX(0.9578);">11</span>
<span class="t" style="left:25.63px;top:437px;font-size:12.3px;color:#22122e;transform:scaleX(0.9659);">Does Not Want Benefits</span>
<span class="t" style="left:242.75px;top:437px;font-size:12.3px;color:#22122e;transform:scaleX(0.9578);">1</span>
<span class="t" style="left:25.62px;top:453px;font-size:12.3px;color:#22122e;transform:scaleX(0.9758);">Stop Future Billing</span>
<span class="t" style="left:242.75px;top:453px;font-size:12.3px;color:#22122e;transform:scaleX(0.9578);">4</span>
<span class="t" style="left:25.66px;top:469px;font-size:12.3px;color:#22122e;transform:scaleX(0.9394);">Product Did Not Work</span>
<span class="t" style="left:242.75px;top:469px;font-size:12.3px;color:#22122e;transform:scaleX(0.9578);">1</span>
<span class="t" style="left:12.82px;top:487px;font-size:14.2px;color:#1c1c1c;transform:scaleX(1.0341);">Demo Account</span>
<span class="t" style="left:242.25px;top:487px;font-size:12.3px;color:#1c1c1c;transform:scaleX(0.9578);">0</span>
<span class="t" style="left:284.54px;top:487px;font-size:12.3px;color:#1c1c1c;transform:scaleX(1.0831);">0%</span>
<span class="t" style="left:341.15px;top:487px;font-size:12.3px;color:#1c1c1c;transform:scaleX(0.9578);">0</span>
<span class="t" style="left:366.45px;top:487px;font-size:12.3px;color:#1c1c1c;transform:scaleX(1.0286);">100%</span>
<span class="t" style="left:441.85px;top:487px;font-size:12.3px;color:#1c1c1c;transform:scaleX(0.9578);">0</span>
<span class="t" style="left:503.25px;top:487px;font-size:12.3px;color:#1c1c1c;transform:scaleX(0.9578);">2</span>
<span class="t" style="left:542.05px;top:487px;font-size:12.3px;color:#1c1c1c;transform:scaleX(1.0286);">200%</span>
<span class="t" style="left:12.87px;top:507px;font-size:13.0px;color:#1c1c1c;transform:scaleX(0.9774);">Rusty Wheeler</span>
<span class="t" style="left:242.25px;top:508px;font-size:12.3px;color:#1c1c1c;transform:scaleX(0.9578);">0</span>
<span class="t" style="left:284.54px;top:508px;font-size:12.3px;color:#1c1c1c;transform:scaleX(1.0831);">0%</span>
<span class="t" style="left:341.15px;top:508px;font-size:12.3px;color:#1c1c1c;transform:scaleX(0.9578);">0</span>
<span class="t" style="left:366.45px;top:508px;font-size:12.3px;color:#1c1c1c;transform:scaleX(1.0286);">100%</span>
<span class="t" style="left:441.85px;top:508px;font-size:12.3px;color:#1c1c1c;transform:scaleX(0.9578);">0</span>
<span class="t" style="left:503.25px;top:508px;font-size:12.3px;color:#1c1c1c;transform:scaleX(0.9578);">3</span>
<span class="t" style="left:542.05px;top:508px;font-size:12.3px;color:#1c1c1c;transform:scaleX(1.0286);">300%</span>
<span class="t" style="left:242.25px;top:527px;font-size:12.3px;color:#1c1c1c;transform:scaleX(0.9578);">0</span>
<span class="t" style="left:284.54px;top:527px;font-size:12.3px;color:#1c1c1c;transform:scaleX(1.0831);">0%</span>
<span class="t" style="left:341.15px;top:527px;font-size:12.3px;color:#1c1c1c;transform:scaleX(0.9578);">0</span>
<span class="t" style="left:366.45px;top:527px;font-size:12.3px;color:#1c1c1c;transform:scaleX(1.0286);">100%</span>
<span class="t" style="left:441.85px;top:527px;font-size:12.3px;color:#1c1c1c;transform:scaleX(0.9578);">0</span>
<span class="t" style="left:503.25px;top:527px;font-size:12.3px;color:#1c1c1c;transform:scaleX(0.9578);">1</span>
<span class="t" style="left:542.05px;top:527px;font-size:12.3px;color:#1c1c1c;transform:scaleX(1.0286);">100%</span>
<span class="t" style="left:242.25px;top:548px;font-size:12.3px;color:#1c1c1c;transform:scaleX(0.9578);">0</span>
<span class="t" style="left:284.54px;top:548px;font-size:12.3px;color:#1c1c1c;transform:scaleX(1.0831);">0%</span>
<span class="t" style="left:341.15px;top:548px;font-size:12.3px;color:#1c1c1c;transform:scaleX(0.9578);">0</span>
<span class="t" style="left:366.45px;top:548px;font-size:12.3px;color:#1c1c1c;transform:scaleX(1.0286);">100%</span>
<span class="t" style="left:441.85px;top:548px;font-size:12.3px;color:#1c1c1c;transform:scaleX(0.9578);">0</span>
<span class="t" style="left:503.25px;top:548px;font-size:12.3px;color:#1c1c1c;transform:scaleX(0.9578);">1</span>
<span class="t" style="left:542.05px;top:548px;font-size:12.3px;color:#1c1c1c;transform:scaleX(1.0286);">100%</span>
<span class="t" style="left:13.30px;top:567px;font-size:12.3px;color:#111;transform:scaleX(1.1209);font-weight:700;-webkit-text-stroke:0.3px #111;">Grand Total</span>
<span class="t" style="left:235.69px;top:567px;font-size:12.3px;color:#1c1c1c;transform:scaleX(0.9578);">27</span>
<span class="t" style="left:334.59px;top:567px;font-size:12.3px;color:#1c1c1c;transform:scaleX(0.9578);">22</span>
<span class="t" style="left:435.29px;top:567px;font-size:12.3px;color:#1c1c1c;transform:scaleX(0.9578);">49</span>
<span class="t" style="left:496.69px;top:567px;font-size:12.3px;color:#1c1c1c;transform:scaleX(0.9578);">23</span>
<span class="t" style="left:776.85px;top:222px;font-size:25.4px;color:#000;transform:scaleX(0.9486);font-weight:700;-webkit-text-stroke:0.7px #000;">Overall Activity</span>
<span class="t" style="left:640.90px;top:533px;font-size:11.5px;color:#111;transform:scaleX(0.8500);">0</span>
<span class="t" style="left:639.88px;top:513px;font-size:11.5px;color:#111;transform:scaleX(1.0200);">1</span>
<span class="t" style="left:639.88px;top:492px;font-size:11.5px;color:#111;transform:scaleX(1.0200);">2</span>
<span class="t" style="left:639.88px;top:472px;font-size:11.5px;color:#111;transform:scaleX(1.0200);">3</span>
<span class="t" style="left:640.90px;top:451px;font-size:11.5px;color:#111;transform:scaleX(0.8500);">4</span>
<span class="t" style="left:639.88px;top:431px;font-size:11.5px;color:#111;transform:scaleX(1.0200);">5</span>
<span class="t" style="left:639.88px;top:410px;font-size:11.5px;color:#111;transform:scaleX(1.0200);">6</span>
<span class="t" style="left:639.88px;top:390px;font-size:11.5px;color:#111;transform:scaleX(1.0200);">7</span>
<span class="t" style="left:640.90px;top:370px;font-size:11.5px;color:#111;transform:scaleX(0.8500);">8</span>
<span class="t" style="left:639.88px;top:349px;font-size:11.5px;color:#111;transform:scaleX(1.0200);">9</span>
<span class="t" style="left:633.98px;top:329px;font-size:11.5px;color:#111;transform:scaleX(0.9250);">10</span>
<span class="t" style="left:633.79px;top:308px;font-size:11.5px;color:#111;transform:scaleX(1.1100);">11</span>
<span class="t" style="left:633.89px;top:288px;font-size:11.5px;color:#111;transform:scaleX(1.0091);">12</span>
<span class="t" style="left:633.98px;top:268px;font-size:11.5px;color:#111;transform:scaleX(0.9250);">13</span>
<span class="t" style="left:688.35px;top:451px;font-size:11.5px;color:#111;transform:scaleX(0.8500);">8</span>
<span class="t" style="left:737.54px;top:411px;font-size:11.5px;color:#111;transform:scaleX(1.0091);">12</span>
<span class="t" style="left:793.33px;top:523px;font-size:11.5px;color:#111;transform:scaleX(1.0200);">1</span>
<span class="t" style="left:845.83px;top:513px;font-size:11.5px;color:#111;transform:scaleX(1.0200);">2</span>
<span class="t" style="left:899.85px;top:492px;font-size:11.5px;color:#111;transform:scaleX(0.8500);">4</span>
<span class="t" style="left:971.11px;top:357px;font-size:12px;color:#111;transform:scaleX(0.9897);">Cancellation with R…</span>
<span class="t" style="left:971.06px;top:378px;font-size:12px;color:#111;transform:scaleX(1.0396);">Cannot Afford</span>
<span class="t" style="left:971.10px;top:400px;font-size:12px;color:#111;transform:scaleX(0.9987);">Does Not Want Ben…</span>
<span class="t" style="left:971.12px;top:421px;font-size:12px;color:#111;transform:scaleX(0.9813);">Product Did Not Work</span>
<span class="t" style="left:971.14px;top:442px;font-size:12px;color:#111;transform:scaleX(0.9624);">Stop Future Billing</span>
</body></html>
